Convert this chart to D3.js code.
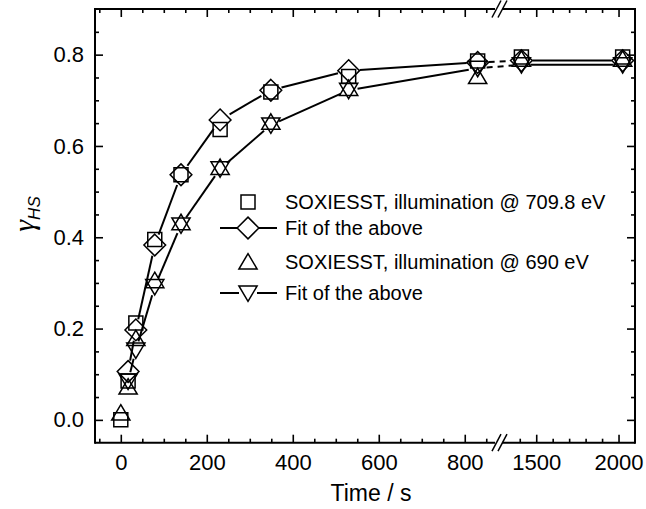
<!DOCTYPE html>
<html>
<head>
<meta charset="utf-8">
<script src="https://cdn.jsdelivr.net/npm/d3@7"></script>
<style>
  html, body { margin: 0; padding: 0; background: #fff; }
  svg { display: block; font-family: "Liberation Sans", Arial, sans-serif; }
</style>
</head>
<body>
<svg id="chart" width="646" height="509"></svg>
<script>
// Measurement times (s) and switching fractions
const times    = [0, 17, 35, 79, 140, 231, 349, 530, 830, 1410, 2025];
const data709  = [0.0, 0.085, 0.212, 0.395, 0.537, 0.636, 0.718, 0.752, 0.786, 0.795, 0.795];
const data690  = [0.015, 0.072, 0.178, 0.305, 0.432, 0.553, 0.652, 0.726, 0.752, 0.790, 0.790];
const fitTimes = [17, 35, 79, 140, 231, 349, 530, 830, 1410, 2025];
const fit709   = [0.106, 0.197, 0.383, 0.537, 0.657, 0.722, 0.765, 0.783, 0.787, 0.787];
const fit690   = [0.085, 0.153, 0.292, 0.427, 0.550, 0.646, 0.722, 0.770, 0.778, 0.778];

const xTicksLeft  = [0, 200, 400, 600, 800];
const xTicksRight = [1500, 2000];
const yTicks      = [0, 0.2, 0.4, 0.6, 0.8];
const legendLabels = [
  "SOXIESST, illumination @ 709.8 eV",
  "Fit of the above",
  "SOXIESST, illumination @ 690 eV",
  "Fit of the above"
];

const svg = d3.select("#chart");
const L = 95, R = 635, T = 9, B = 442.7;
const breakL = 495, breakR = 502;

// broken x axis: two linear pieces
const xLeft  = d3.scaleLinear().domain([-60, 875]).range([L, 497]);
const xRight = d3.scaleLinear().domain([1280, 2100]).range([500, R]);
const x = t => (t <= 880 ? xLeft(t) : xRight(t));
const y = d3.scaleLinear().domain([-0.05, 0.9]).range([B, T]);

const range = (a, b, s) => d3.range(a, b + s / 2, s);
const minorLeft  = range(-50, 850, 50).filter(v => v % 200 !== 0);
const minorRight = [1400, 1600, 1700, 1800, 1900];
const minorY     = range(0.05, 0.85, 0.05).filter(v => Math.abs(v * 5 - Math.round(v * 5)) > 1e-6);

const fontTick = 22;

function styleAxis(g) {
  g.select(".domain").remove();
  g.selectAll(".tick line").attr("stroke", "#000").attr("stroke-width", 1.6);
  g.selectAll("text").attr("font-size", fontTick).attr("fill", "#000")
    .attr("font-family", "'Liberation Sans', Arial, sans-serif");
}

// bottom and top axes (major + minor, ticks pointing in)
[[xLeft, xTicksLeft, minorLeft], [xRight, xTicksRight, minorRight]].forEach(([sc, maj, mn]) => {
  svg.append("g").attr("transform", `translate(0,${B})`)
    .call(d3.axisBottom(sc).tickValues(maj).tickSize(-8).tickPadding(12).tickFormat(d3.format("d")))
    .call(styleAxis);
  svg.append("g").attr("transform", `translate(0,${B})`)
    .call(d3.axisBottom(sc).tickValues(mn).tickSize(-4).tickFormat(""))
    .call(styleAxis);
  svg.append("g").attr("transform", `translate(0,${T})`)
    .call(d3.axisTop(sc).tickValues(maj).tickSize(-8).tickFormat(""))
    .call(styleAxis);
  svg.append("g").attr("transform", `translate(0,${T})`)
    .call(d3.axisTop(sc).tickValues(mn).tickSize(-4).tickFormat(""))
    .call(styleAxis);
});

// left and right axes
svg.append("g").attr("transform", `translate(${L},0)`)
  .call(d3.axisLeft(y).tickValues(yTicks).tickSize(-8).tickPadding(11).tickFormat(d3.format(".1f")))
  .call(styleAxis);
svg.append("g").attr("transform", `translate(${L},0)`)
  .call(d3.axisLeft(y).tickValues(minorY).tickSize(-4).tickFormat(""))
  .call(styleAxis);
svg.append("g").attr("transform", `translate(${R},0)`)
  .call(d3.axisRight(y).tickValues(yTicks).tickSize(-8).tickFormat(""))
  .call(styleAxis);
svg.append("g").attr("transform", `translate(${R},0)`)
  .call(d3.axisRight(y).tickValues(minorY).tickSize(-4).tickFormat(""))
  .call(styleAxis);

// frame with gaps at the axis break
const frame = svg.append("g").attr("stroke", "#000").attr("stroke-width", 2).attr("fill", "none");
frame.append("line").attr("x1", L).attr("x2", L).attr("y1", T - 1).attr("y2", B + 1);
frame.append("line").attr("x1", R).attr("x2", R).attr("y1", T - 1).attr("y2", B + 1);
[T, B].forEach(yy => {
  frame.append("line").attr("x1", L).attr("x2", breakL).attr("y1", yy).attr("y2", yy);
  frame.append("line").attr("x1", breakR).attr("x2", R).attr("y1", yy).attr("y2", yy);
  [0, 6].forEach(off => {
    frame.append("line").attr("stroke-width", 1.5)
      .attr("x1", breakL - 3 + off).attr("y1", yy + 8.5)
      .attr("x2", breakL + 6 + off).attr("y2", yy - 8.5);
  });
});

// marker shapes
const shapes = {
  square:   s => `M${-s},${-s}H${s}V${s}H${-s}Z`,
  diamond:  s => `M0,${-s * 1.55}L${s * 1.55},0L0,${s * 1.55}L${-s * 1.55},0Z`,
  up:       s => `M0,${-s * 1.2}L${s * 1.3},${s * 1.0}L${-s * 1.3},${s * 1.0}Z`,
  down:     s => `M0,${s * 1.2}L${s * 1.3},${-s * 1.0}L${-s * 1.3},${-s * 1.0}Z`
};
const mSize = 7;
const gap = { diamond: 11, down: 9 };

// fit lines, broken around the symbols, dashed across the axis break
function drawFit(vals, shape) {
  const g = svg.append("g").attr("stroke", "#000").attr("stroke-width", 2).attr("fill", "none");
  for (let i = 0; i < fitTimes.length - 1; i++) {
    const x1 = x(fitTimes[i]), y1 = y(vals[i]), x2 = x(fitTimes[i + 1]), y2 = y(vals[i + 1]);
    const dx = x2 - x1, dy = y2 - y1, len = Math.hypot(dx, dy);
    const r = gap[shape];
    if (len <= 2 * r) continue;
    const ux = dx / len, uy = dy / len;
    const crosses = fitTimes[i] <= 880 && fitTimes[i + 1] > 880;
    g.append("line")
      .attr("x1", x1 + ux * r).attr("y1", y1 + uy * r)
      .attr("x2", x2 - ux * r).attr("y2", y2 - uy * r)
      .attr("stroke-dasharray", crosses ? "6,5" : null);
  }
}
drawFit(fit709, "diamond");
drawFit(fit690, "down");

function drawMarkers(ts, vals, shape, fill) {
  svg.append("g").selectAll("path").data(ts).join("path")
    .attr("transform", (t, i) => `translate(${x(t)},${y(vals[i])})`)
    .attr("d", shapes[shape](mSize))
    .attr("fill", fill).attr("stroke", "#000").attr("stroke-width", 1.5);
}
drawMarkers(fitTimes, fit709, "diamond", "none");
drawMarkers(fitTimes, fit690, "down", "none");
drawMarkers(times, data709, "square", "none");
drawMarkers(times, data690, "up", "none");

// legend
const legendRows = [
  { shape: "square", line: false, cy: 202 },
  { shape: "diamond", line: true, cy: 228 },
  { shape: "up", line: false, cy: 262 },
  { shape: "down", line: true, cy: 293 }
];
const lg = svg.append("g");
legendRows.forEach((row, i) => {
  const cx = 248;
  if (row.line) {
    lg.append("line").attr("x1", 220).attr("x2", cx - gap[row.shape]).attr("y1", row.cy).attr("y2", row.cy)
      .attr("stroke", "#000").attr("stroke-width", 2);
    lg.append("line").attr("x1", cx + gap[row.shape]).attr("x2", 277).attr("y1", row.cy).attr("y2", row.cy)
      .attr("stroke", "#000").attr("stroke-width", 2);
  }
  lg.append("path").attr("transform", `translate(${cx},${row.cy})`)
    .attr("d", shapes[row.shape](mSize)).attr("fill", "none").attr("stroke", "#000").attr("stroke-width", 1.5);
  lg.append("text").attr("x", 285).attr("y", row.cy + 7).attr("font-size", 20).attr("fill", "#000")
    .text(legendLabels[i]);
});

// axis titles
svg.append("text").attr("x", 371).attr("y", 501).attr("text-anchor", "middle")
  .attr("font-size", 23).attr("fill", "#000").text("Time / s");

const yl = svg.append("text").attr("transform", "translate(34,214) rotate(-90)")
  .attr("text-anchor", "middle").attr("fill", "#000");
yl.append("tspan").attr("font-family", "'Liberation Serif', 'Times New Roman', serif")
  .attr("font-style", "italic").attr("font-size", 30).text("γ");
yl.append("tspan").attr("font-style", "italic").attr("font-size", 17).attr("dy", 6).text("HS");
</script>
</body>
</html>
